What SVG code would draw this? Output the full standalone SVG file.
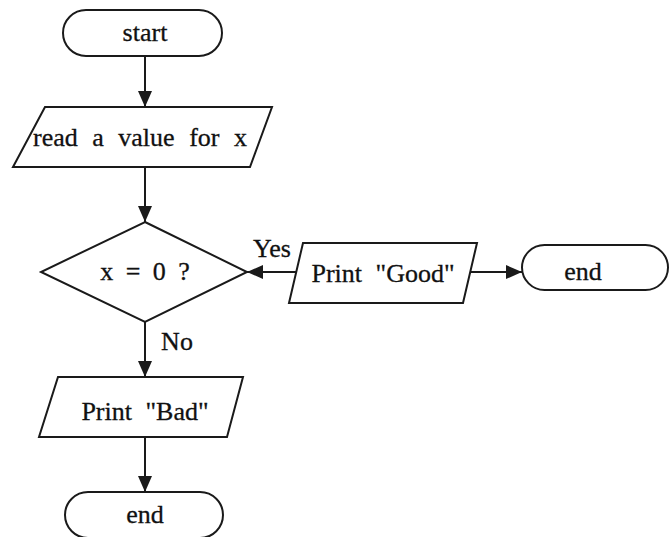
<svg xmlns="http://www.w3.org/2000/svg" width="669" height="537" viewBox="0 0 669 537">
<style>
.s{fill:#fff;stroke:#1a1a1a;stroke-width:2}
.t{font-family:"Liberation Serif","Times New Roman",serif;font-size:26px;fill:#111;stroke:#111;stroke-width:0.3;text-anchor:middle}
.c{stroke:#1a1a1a;stroke-width:2;fill:none;marker-end:url(#ah)}
</style>
<defs>
<marker id="ah" markerUnits="userSpaceOnUse" markerWidth="16" markerHeight="14" refX="16" refY="7" orient="auto">
<path d="M0,0 L16,7 L0,14 Z" fill="#1a1a1a"/>
</marker>
</defs>
<rect width="669" height="537" fill="#fff"/>
<g id="connectors">
<line class="c" x1="145" y1="56" x2="145" y2="107"/>
<line class="c" x1="145" y1="167" x2="145" y2="222"/>
<line class="c" x1="296" y1="272" x2="247" y2="272"/>
<line class="c" x1="470" y1="272" x2="522" y2="272"/>
<line class="c" x1="145" y1="322" x2="145" y2="377"/>
<line class="c" x1="145" y1="437" x2="145" y2="492"/>
<text class="t" x="272" y="257">Yes</text>
<text class="t" x="177" y="350">No</text>
</g>
<g id="start">
<rect class="s" x="63" y="10" width="159" height="46" rx="23" ry="23"/>
<text class="t" x="145" y="41">start</text>
</g>
<g id="read">
<polygon class="s" points="45,107 272,107 250,167 13,167"/>
<text class="t" x="140" y="146" word-spacing="8">read a value for x</text>
</g>
<g id="decision">
<polygon class="s" points="145,222 247,272 145,322 41,272"/>
<text class="t" x="145" y="280" word-spacing="6">x = 0 ?</text>
</g>
<g id="printGood">
<polygon class="s" points="303,243 477,243 463,303 289,303"/>
<text class="t" x="383" y="282" word-spacing="7">Print "Good"</text>
</g>
<g id="endRight">
<rect class="s" x="522" y="245" width="146" height="45" rx="22.5" ry="22.5"/>
<text class="t" x="583" y="280">end</text>
</g>
<g id="printBad">
<polygon class="s" points="58,377 243,377 227,437 39,437"/>
<text class="t" x="145" y="420" word-spacing="7">Print "Bad"</text>
</g>
<g id="endBottom">
<rect class="s" x="65" y="492" width="158" height="46" rx="23" ry="23"/>
<text class="t" x="145" y="523">end</text>
</g>
</svg>
